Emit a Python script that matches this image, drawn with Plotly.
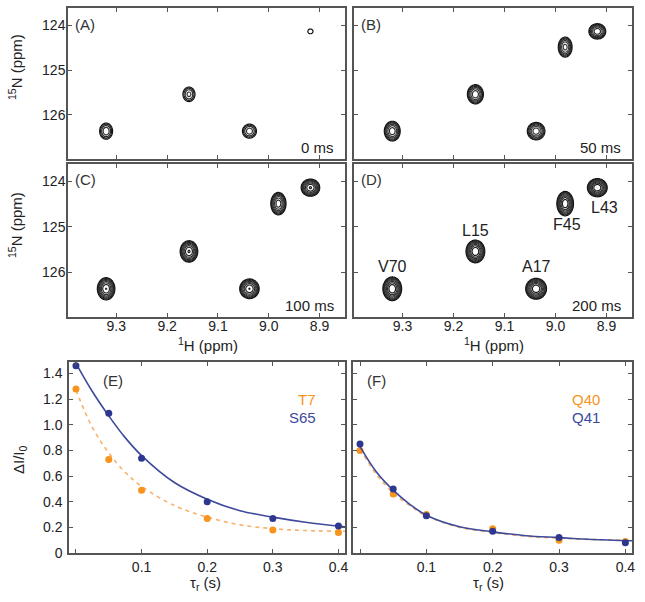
import numpy as np
import plotly.graph_objects as go

# ---------------- data ----------------
# NMR peaks (1H, 15N in ppm)
peak_names = ["V70", "L15", "A17", "F45", "L43"]
peak_H = [9.320, 9.157, 9.038, 8.981, 8.918]
peak_N = [126.36, 125.54, 126.36, 124.49, 124.14]
peak_wH = [0.0092, 0.0092, 0.0102, 0.0082, 0.0097]
peak_wN = [0.130, 0.125, 0.115, 0.135, 0.100]
# peak heights relative to the lowest contour level, per mixing time
heights_0ms = [2.6, 2.3, 2.5, 0.3, 1.15]
heights_50ms = [4.2, 4.3, 4.2, 3.9, 4.3]
heights_100ms = [5.8, 5.9, 5.8, 5.3, 5.9]
heights_200ms = [7.4, 7.4, 7.4, 7.2, 7.4]
panel_times = ["0 ms", "50 ms", "100 ms", "200 ms"]
panel_tags = ["(A)", "(B)", "(C)", "(D)"]

# build-up curves
tau = [0.0, 0.05, 0.1, 0.2, 0.3, 0.4]
S65 = [1.46, 1.09, 0.74, 0.40, 0.27, 0.21]
T7 = [1.28, 0.73, 0.49, 0.27, 0.18, 0.16]
Q41 = [0.85, 0.50, 0.29, 0.17, 0.12, 0.08]
Q40 = [0.80, 0.46, 0.30, 0.19, 0.10, 0.09]

fit_tau = [0.0, 0.025, 0.05, 0.075, 0.1, 0.15, 0.2, 0.25, 0.3, 0.35, 0.41]
S65_fit = [1.48, 1.26, 1.07, 0.90, 0.76, 0.55, 0.42, 0.33, 0.28, 0.24, 0.205]
T7_fit = [1.27, 0.98, 0.78, 0.63, 0.52, 0.37, 0.28, 0.22, 0.19, 0.175, 0.17]
Q41_fit = [0.83, 0.63, 0.49, 0.38, 0.295, 0.205, 0.165, 0.135, 0.12, 0.105, 0.095]
Q40_fit = [0.81, 0.61, 0.47, 0.37, 0.29, 0.20, 0.16, 0.13, 0.115, 0.105, 0.10]

H_ticks = [9.3, 9.2, 9.1, 9.0, 8.9]
H_ticktext = ["9.3", "9.2", "9.1", "9.0", "8.9"]
N_ticks = [124, 125, 126]
I_ticks = [0, 0.2, 0.4, 0.6, 0.8, 1.0, 1.2, 1.4]
I_ticktext = ["0", "0.2", "0.4", "0.6", "0.8", "1.0", "1.2", "1.4"]
tau_ticks = [0, 0.1, 0.2, 0.3, 0.4]
tau_ticktext = ["", "0.1", "0.2", "0.3", "0.4"]

# ---------------- layout helpers ----------------
W, H = 645, 602
FONT = "Liberation Sans, Arial, sans-serif"
TXT = "#222222"
AX = "#555555"
ORANGE = "#F7941D"
ORANGE_L = "#F6B26B"
BLUE = "#2E3790"
BLUE_L = "#3D4A9C"


def fx(p):
    return p / W


def fy(p):
    return 1 - p / H


# panel pixel boxes (left, top, right, bottom)
boxes = [
    (68, 8, 345, 159),
    (354, 8, 632, 159),
    (68, 164, 345, 317),
    (354, 164, 632, 317),
    (69, 362, 345, 553),
    (353, 362, 632, 553),
]

fig = go.Figure()

H_range = [9.395, 8.85]
N_range = [126.98, 123.62]
xg = np.linspace(H_range[1], H_range[0], 360)
yg = np.linspace(N_range[1], N_range[0], 280)
XX, YY = np.meshgrid(xg, yg)

all_heights = [heights_0ms, heights_50ms, heights_100ms, heights_200ms]
for i, hts in enumerate(all_heights):
    z = np.zeros_like(XX)
    for h0, n0, wh, wn, amp in zip(peak_H, peak_N, peak_wH, peak_wN, hts):
        z += amp * np.exp(-0.5 * ((XX - h0) / wh) ** 2 - 0.5 * ((YY - n0) / wn) ** 2)
    lz = np.log(np.maximum(z, 1e-4))
    xa = "x" if i == 0 else f"x{i+1}"
    ya = "y" if i == 0 else f"y{i+1}"
    fig.add_trace(go.Contour(
        x=xg, y=yg, z=lz, xaxis=xa, yaxis=ya,
        contours=dict(start=0, end=2.2, size=0.25, coloring="lines"),
        colorscale=[[0, "#111111"], [0.5, "#3a3a3a"], [1, "#111111"]],
        line=dict(width=1.2), showscale=False, hoverinfo="skip",
    ))

# build-up panels
def add_series(xa, ya, xs, ys, fx_, fy_, col_m, col_l, dash):
    fig.add_trace(go.Scatter(x=fx_, y=fy_, mode="lines", xaxis=xa, yaxis=ya,
                             line=dict(color=col_l, width=1.6, dash=dash, shape="spline"),
                             showlegend=False, hoverinfo="skip"))
    fig.add_trace(go.Scatter(x=xs, y=ys, mode="markers", xaxis=xa, yaxis=ya,
                             marker=dict(color=col_m, size=7),
                             showlegend=False))

add_series("x5", "y5", tau, T7, fit_tau, T7_fit, ORANGE, ORANGE_L, "4px,4px")
add_series("x5", "y5", tau, S65, fit_tau, S65_fit, BLUE, BLUE_L, "solid")
add_series("x6", "y6", tau, Q40, fit_tau, Q40_fit, ORANGE, ORANGE_L, "4px,4px")
add_series("x6", "y6", tau, Q41, fit_tau, Q41_fit, BLUE, BLUE_L, "solid")

layout = dict(
    width=W, height=H, margin=dict(l=0, r=0, t=0, b=0),
    paper_bgcolor="white", plot_bgcolor="white",
    font=dict(family=FONT, size=14, color=TXT),
    showlegend=False,
)

common = dict(showline=True, linecolor=AX, linewidth=1.5, mirror="ticks",
              ticks="inside", ticklen=4, tickcolor=AX, tickwidth=1,
              showgrid=False, zeroline=False, automargin=False,
              tickfont=dict(family=FONT, size=14, color=TXT))

for i, (l, t, r, b) in enumerate(boxes):
    n = "" if i == 0 else str(i + 1)
    xd = [fx(l), fx(r)]
    yd = [fy(b), fy(t)]
    if i < 4:
        xax = dict(common, domain=xd, range=H_range, tickvals=H_ticks, ticktext=H_ticktext,
                   showticklabels=(i >= 2), anchor="y" + n, ticklabelstandoff=-5)
        yax = dict(common, domain=yd, range=N_range, tickvals=N_ticks,
                   showticklabels=(i % 2 == 0), anchor="x" + n, ticklabelstandoff=-2)
    else:
        xax = dict(common, domain=xd, range=[-0.0106, 0.41], tickvals=tau_ticks,
                   ticktext=tau_ticktext, anchor="y" + n)
        yax = dict(common, domain=yd, range=[0, 1.49], tickvals=I_ticks, ticktext=I_ticktext,
                   showticklabels=(i == 4), anchor="x" + n, ticklabelstandoff=2)
    layout["xaxis" + n] = xax
    layout["yaxis" + n] = yax

fig.update_layout(**layout)

ann = []


def A(x, y, text, size=15, color=TXT, xanchor="center", yanchor="middle", **kw):
    d = dict(x=x, y=y, xref="paper", yref="paper", text=text, showarrow=False,
             xanchor=xanchor, yanchor=yanchor, font=dict(family=FONT, size=size, color=color))
    d.update(kw)
    ann.append(d)


# panel tags and times
for i in range(4):
    l, t, r, b = boxes[i]
    A(fx(l + 5), fy(t + 16), panel_tags[i], color="#333333", xanchor="left")
    A(fx(r - 9), fy(b - 12), panel_times[i], xanchor="right")

# peak labels in panel D
label_shift = {"V70": (0, 22), "L15": (0, 21), "A17": (0, 22), "F45": (2, -21), "L43": (7, -20)}
for name, h0, n0 in zip(peak_names, peak_H, peak_N):
    dx, dy = label_shift[name]
    ann.append(dict(x=h0, y=n0, xref="x4", yref="y4", text=name, showarrow=False,
                    xanchor="center", yanchor="middle",
                    xshift=dx, yshift=dy, font=dict(family=FONT, size=16, color=TXT)))

# E / F tags and legends
A(fx(113), fy(380), "(E)", color="#333333")
A(fx(376), fy(380), "(F)", color="#333333")
A(fx(318), fy(399), "T7", color=ORANGE, xanchor="right")
A(fx(318), fy(417), "S65", color=BLUE_L, xanchor="right")
A(fx(602), fy(399), "Q40", color=ORANGE, xanchor="right")
A(fx(602), fy(417), "Q41", color=BLUE_L, xanchor="right")

# axis titles
for yc in (67, 225):
    A(fx(15), fy(yc), "<sup>15</sup>N (ppm)", textangle=-90)
for xc in (208, 494):
    A(fx(xc), fy(344), "<sup>1</sup>H (ppm)")
A(fx(19), fy(460), "ΔI/I<sub>0</sub>", textangle=-90)
for xc in (205, 489):
    A(fx(xc), fy(583), "τ<sub>r</sub> (s)")

fig.update_layout(annotations=ann)
fig.write_html("out.html", config={"displayModeBar": False},
               post_script="document.body.style.margin='0';")
